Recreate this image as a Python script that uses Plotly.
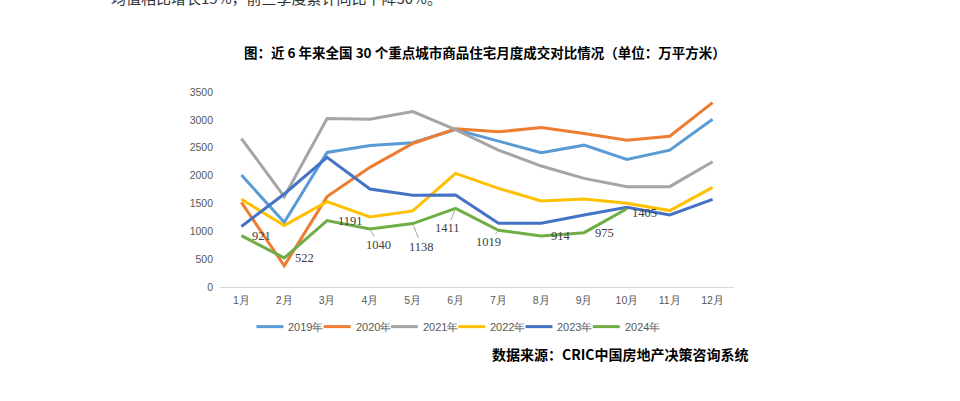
import plotly.graph_objects as go

months = ["1月", "2月", "3月", "4月", "5月", "6月", "7月", "8月", "9月", "10月", "11月", "12月"]
s2019 = [2010, 1160, 2415, 2540, 2590, 2826, 2618, 2409, 2546, 2290, 2457, 3011]
s2020 = [1520, 380, 1622, 2147, 2576, 2840, 2785, 2862, 2755, 2636, 2707, 3310]
s2021 = [2665, 1622, 3023, 3011, 3149, 2826, 2457, 2171, 1950, 1801, 1801, 2248]
s2022 = [1574, 1103, 1532, 1258, 1366, 2039, 1771, 1544, 1580, 1503, 1372, 1789]
s2023 = [1085, 1670, 2326, 1759, 1646, 1652, 1145, 1145, 1294, 1431, 1294, 1574]
s2024 = [921, 522, 1191, 1040, 1138, 1411, 1019, 914, 975, 1405]

series = [
    ("2019年", s2019, "#5B9BD5"),
    ("2020年", s2020, "#ED7D31"),
    ("2021年", s2021, "#A5A5A5"),
    ("2022年", s2022, "#FFC000"),
    ("2023年", s2023, "#4472C4"),
    ("2024年", s2024, "#70AD47"),
]

# plot area in page pixels (body margin removed below)
PL, PW, PB, PH = 219.5, 515.0, 287.0, 195.3


def px(X):
    return (X - PL) / PW


def py(Y):
    return (PB - Y) / PH


fig = go.Figure()
for name, vals, color in series:
    fig.add_trace(go.Scatter(
        x=months[:len(vals)], y=vals, name=name, mode="lines",
        line=dict(color=color, width=3), showlegend=False,
    ))

label_font = dict(family="Liberation Serif", size=12.5, color="#404040")
# data label placement for 2024 series: (dx, dy, leader)
label_pos = [(20, 0, False), (20, 0, False), (23, 0, False), (9, 16, True), (9, 23, True),
             (-8, 20, True), (-10, 12, True), (20, 0, False), (20, 0, False), (18, 4, False)]
annotations = []
shapes = []
for m, v, (dx, dy, leader) in zip(months, s2024, label_pos):
    if leader:
        annotations.append(dict(x=m, y=v, text=str(v), showarrow=True, arrowhead=0,
                                arrowwidth=1, arrowcolor="#A6A6A6", ax=dx, ay=dy,
                                standoff=2, font=label_font))
    else:
        annotations.append(dict(x=m, y=v, text=str(v), showarrow=False, xshift=dx, yshift=-dy,
                                font=label_font))

# legend drawn by hand to match the compact original spacing
for i, (name, vals, color) in enumerate(series):
    x0 = 256 + 67.4 * i
    shapes.append(dict(type="line", xref="paper", yref="paper", x0=px(x0), x1=px(x0 + 27),
                       y0=py(326.7), y1=py(326.7), line=dict(color=color, width=3)))
    annotations.append(dict(xref="paper", yref="paper", x=px(x0 + 30), y=py(326.7),
                            xanchor="left", yanchor="middle", showarrow=False, text=name,
                            font=dict(family="Liberation Sans", size=11, color="#595959")))

annotations.append(dict(xref="paper", yref="paper", x=px(485), y=py(52), xanchor="center",
                        yanchor="middle", showarrow=False,
                        text="<b>图：近 6 年来全国 30 个重点城市商品住宅月度成交对比情况（单位：万平方米）</b>",
                        font=dict(family="Noto Sans CJK SC", size=13.5, color="#000000")))
annotations.append(dict(xref="paper", yref="paper", x=px(752), y=py(354), xanchor="right",
                        yanchor="middle", showarrow=False,
                        text="<b>数据来源：CRIC中国房地产决策咨询系统</b>",
                        font=dict(family="Noto Sans CJK SC", size=14, color="#000000")))
annotations.append(dict(xref="paper", yref="paper", x=px(108), y=py(-3), xanchor="left",
                        yanchor="middle", showarrow=False,
                        text="均值相比增长15%，前三季度累计同比下降30%。",
                        font=dict(family="Noto Sans CJK SC", size=15, color="#333333")))

fig.update_layout(
    width=960, height=401,
    margin=dict(l=PL, r=960 - (PL + PW), t=PB - PH, b=401 - PB),
    paper_bgcolor="white", plot_bgcolor="white",
    showlegend=False,
    xaxis=dict(range=[-0.5, 11.5], showline=True, linecolor="#D9D9D9", linewidth=1,
               showgrid=False, ticks="", ticklabelstandoff=3,
               tickfont=dict(family="Liberation Sans", size=10.5, color="#595959")),
    yaxis=dict(range=[0, 3500], dtick=500, showgrid=False, zeroline=False, showline=False,
               ticks="", ticklabelstandoff=6,
               tickfont=dict(family="Liberation Sans", size=10.5, color="#595959")),
    annotations=annotations,
    shapes=shapes,
)

fig.write_html("out.html", config={"displayModeBar": False},
               post_script="document.body.style.margin='0';")
